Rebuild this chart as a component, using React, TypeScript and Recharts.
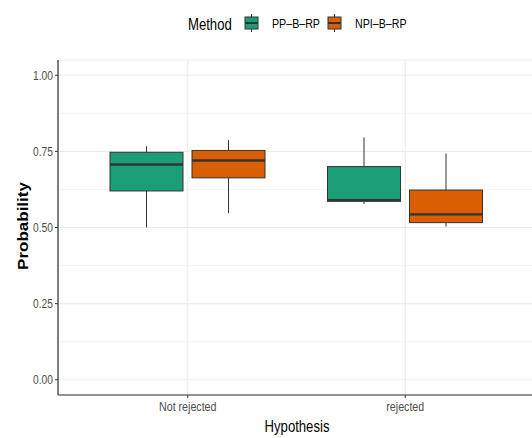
import { ComposedChart, Bar, XAxis, YAxis, CartesianGrid } from "recharts";

const hypotheses = ["Not rejected", "rejected"];

// PP–B–RP box statistics per hypothesis
const ppLow = [0.5, 0.577];
const ppQ1 = [0.62, 0.586];
const ppMedian = [0.707, 0.59];
const ppQ3 = [0.747, 0.7];
const ppHigh = [0.767, 0.796];

// NPI–B–RP box statistics per hypothesis
const npiLow = [0.547, 0.503];
const npiQ1 = [0.663, 0.516];
const npiMedian = [0.72, 0.543];
const npiQ3 = [0.753, 0.623];
const npiHigh = [0.787, 0.743];

const yTicks = [0, 0.25, 0.5, 0.75, 1];
const minorTicks = [0.125, 0.375, 0.625, 0.875];

const GREEN = "#1B9E77";
const ORANGE = "#D95F02";
const INK = "#333333";
const FONT = "'Liberation Sans', Arial, sans-serif";
const SQUEEZE = 0.82; // the reference text is horizontally condensed

const rows = hypotheses.map((hyp, i) => ({
  hyp,
  pp: [ppLow[i], ppHigh[i]],
  npi: [npiLow[i], npiHigh[i]],
  ppStats: { lo: ppLow[i], q1: ppQ1[i], med: ppMedian[i], q3: ppQ3[i], hi: ppHigh[i] },
  npiStats: { lo: npiLow[i], q1: npiQ1[i], med: npiMedian[i], q3: npiQ3[i], hi: npiHigh[i] },
}));

// condensed text anchored at (x, y)
function Narrow({ x, y, size, anchor = "start", fill = "#000", children }: any) {
  return (
    <text
      transform={`translate(${x} ${y}) scale(${SQUEEZE} 1)`}
      textAnchor={anchor}
      fontSize={size}
      fill={fill}
      fontFamily={FONT}
    >
      {children}
    </text>
  );
}

// The bar spans low..high; inner positions are placed on the same linear scale.
const boxShape = (statsKey: "ppStats" | "npiStats", fill: string) => (props: any) => {
  const { x, y, width, height, payload } = props;
  const s = payload[statsKey];
  const top = Math.min(y, y + height);
  const bot = Math.max(y, y + height);
  const py = (v: number) => top + ((s.hi - v) / (s.hi - s.lo)) * (bot - top);
  const cx = x + width / 2;
  return (
    <g>
      <line x1={cx} x2={cx} y1={py(s.hi)} y2={py(s.q3)} stroke={INK} strokeWidth={1} />
      <line x1={cx} x2={cx} y1={py(s.q1)} y2={py(s.lo)} stroke={INK} strokeWidth={1} />
      <rect x={x} y={py(s.q3)} width={width} height={py(s.q1) - py(s.q3)} fill={fill} stroke={INK} strokeWidth={1} />
      <line x1={x} x2={x + width} y1={py(s.med)} y2={py(s.med)} stroke={INK} strokeWidth={2.4} />
    </g>
  );
};

const XTick = (props: any) => {
  const { x, y, payload } = props;
  return (
    <Narrow x={x} y={y + 11} size={13} anchor="middle" fill="#4d4d4d">
      {payload.value}
    </Narrow>
  );
};

const YTick = (props: any) => {
  const { x, y, payload } = props;
  return (
    <Narrow x={x} y={y + 4.5} size={12.5} anchor="end" fill="#4d4d4d">
      {Number(payload.value).toFixed(2)}
    </Narrow>
  );
};

function LegendKey({ x, fill }: { x: number; fill: string }) {
  return (
    <g>
      <line x1={x + 6.5} x2={x + 6.5} y1={14} y2={32} stroke={INK} strokeWidth={1} />
      <rect x={x} y={17} width={13} height={12} fill={fill} stroke={INK} strokeWidth={1} />
      <line x1={x} x2={x + 13} y1={23} y2={23} stroke={INK} strokeWidth={2} />
    </g>
  );
}

export default function App() {
  return (
    <div
      style={{
        position: "absolute",
        left: 0,
        top: 0,
        width: 532,
        height: 438,
        overflow: "hidden",
        background: "#fff",
        fontFamily: FONT,
      }}
    >
      <svg width={532} height={50} style={{ position: "absolute", left: 0, top: 0, zIndex: 2 }}>
        <Narrow x={188} y={30} size={16}>Method</Narrow>
        <LegendKey x={245} fill={GREEN} />
        <Narrow x={272} y={28} size={13}>PP–B–RP</Narrow>
        <LegendKey x={328} fill={ORANGE} />
        <Narrow x={355} y={28} size={13}>NPI–B–RP</Narrow>
      </svg>
      <ComposedChart
        width={560}
        height={438}
        data={rows}
        margin={{ top: 60, right: 24, bottom: 0, left: 0 }}
        barGap={9}
      >
        <CartesianGrid stroke="#ebebeb" strokeWidth={0.6} vertical={false} horizontalValues={minorTicks} />
        <CartesianGrid stroke="#ebebeb" strokeWidth={1.1} vertical horizontal />
        <XAxis
          dataKey="hyp"
          padding={{ left: 21, right: 22 }}
          height={43}
          tickSize={3}
          tick={<XTick />}
          axisLine={{ stroke: INK, strokeWidth: 1.2 }}
          tickLine={{ stroke: INK }}
          label={{
            content: () => (
              <Narrow x={297} y={432} size={16} anchor="middle">
                Hypothesis
              </Narrow>
            ),
          }}
        />
        <YAxis
          type="number"
          domain={[-0.05, 1.05]}
          ticks={yTicks}
          allowDataOverflow
          width={58}
          tickSize={3}
          tick={<YTick />}
          axisLine={{ stroke: INK, strokeWidth: 1.2 }}
          tickLine={{ stroke: INK }}
          label={{
            content: () => (
              <text
                transform={`translate(28 226) scale(${SQUEEZE} 1) rotate(-90)`}
                textAnchor="middle"
                fontSize={17}
                fontWeight="bold"
                fill="#000"
                fontFamily={FONT}
              >
                Probability
              </text>
            ),
          }}
        />
        <Bar dataKey="pp" fill={GREEN} barSize={73} isAnimationActive={false} shape={boxShape("ppStats", GREEN)} />
        <Bar dataKey="npi" fill={ORANGE} barSize={73} isAnimationActive={false} shape={boxShape("npiStats", ORANGE)} />
      </ComposedChart>
    </div>
  );
}
